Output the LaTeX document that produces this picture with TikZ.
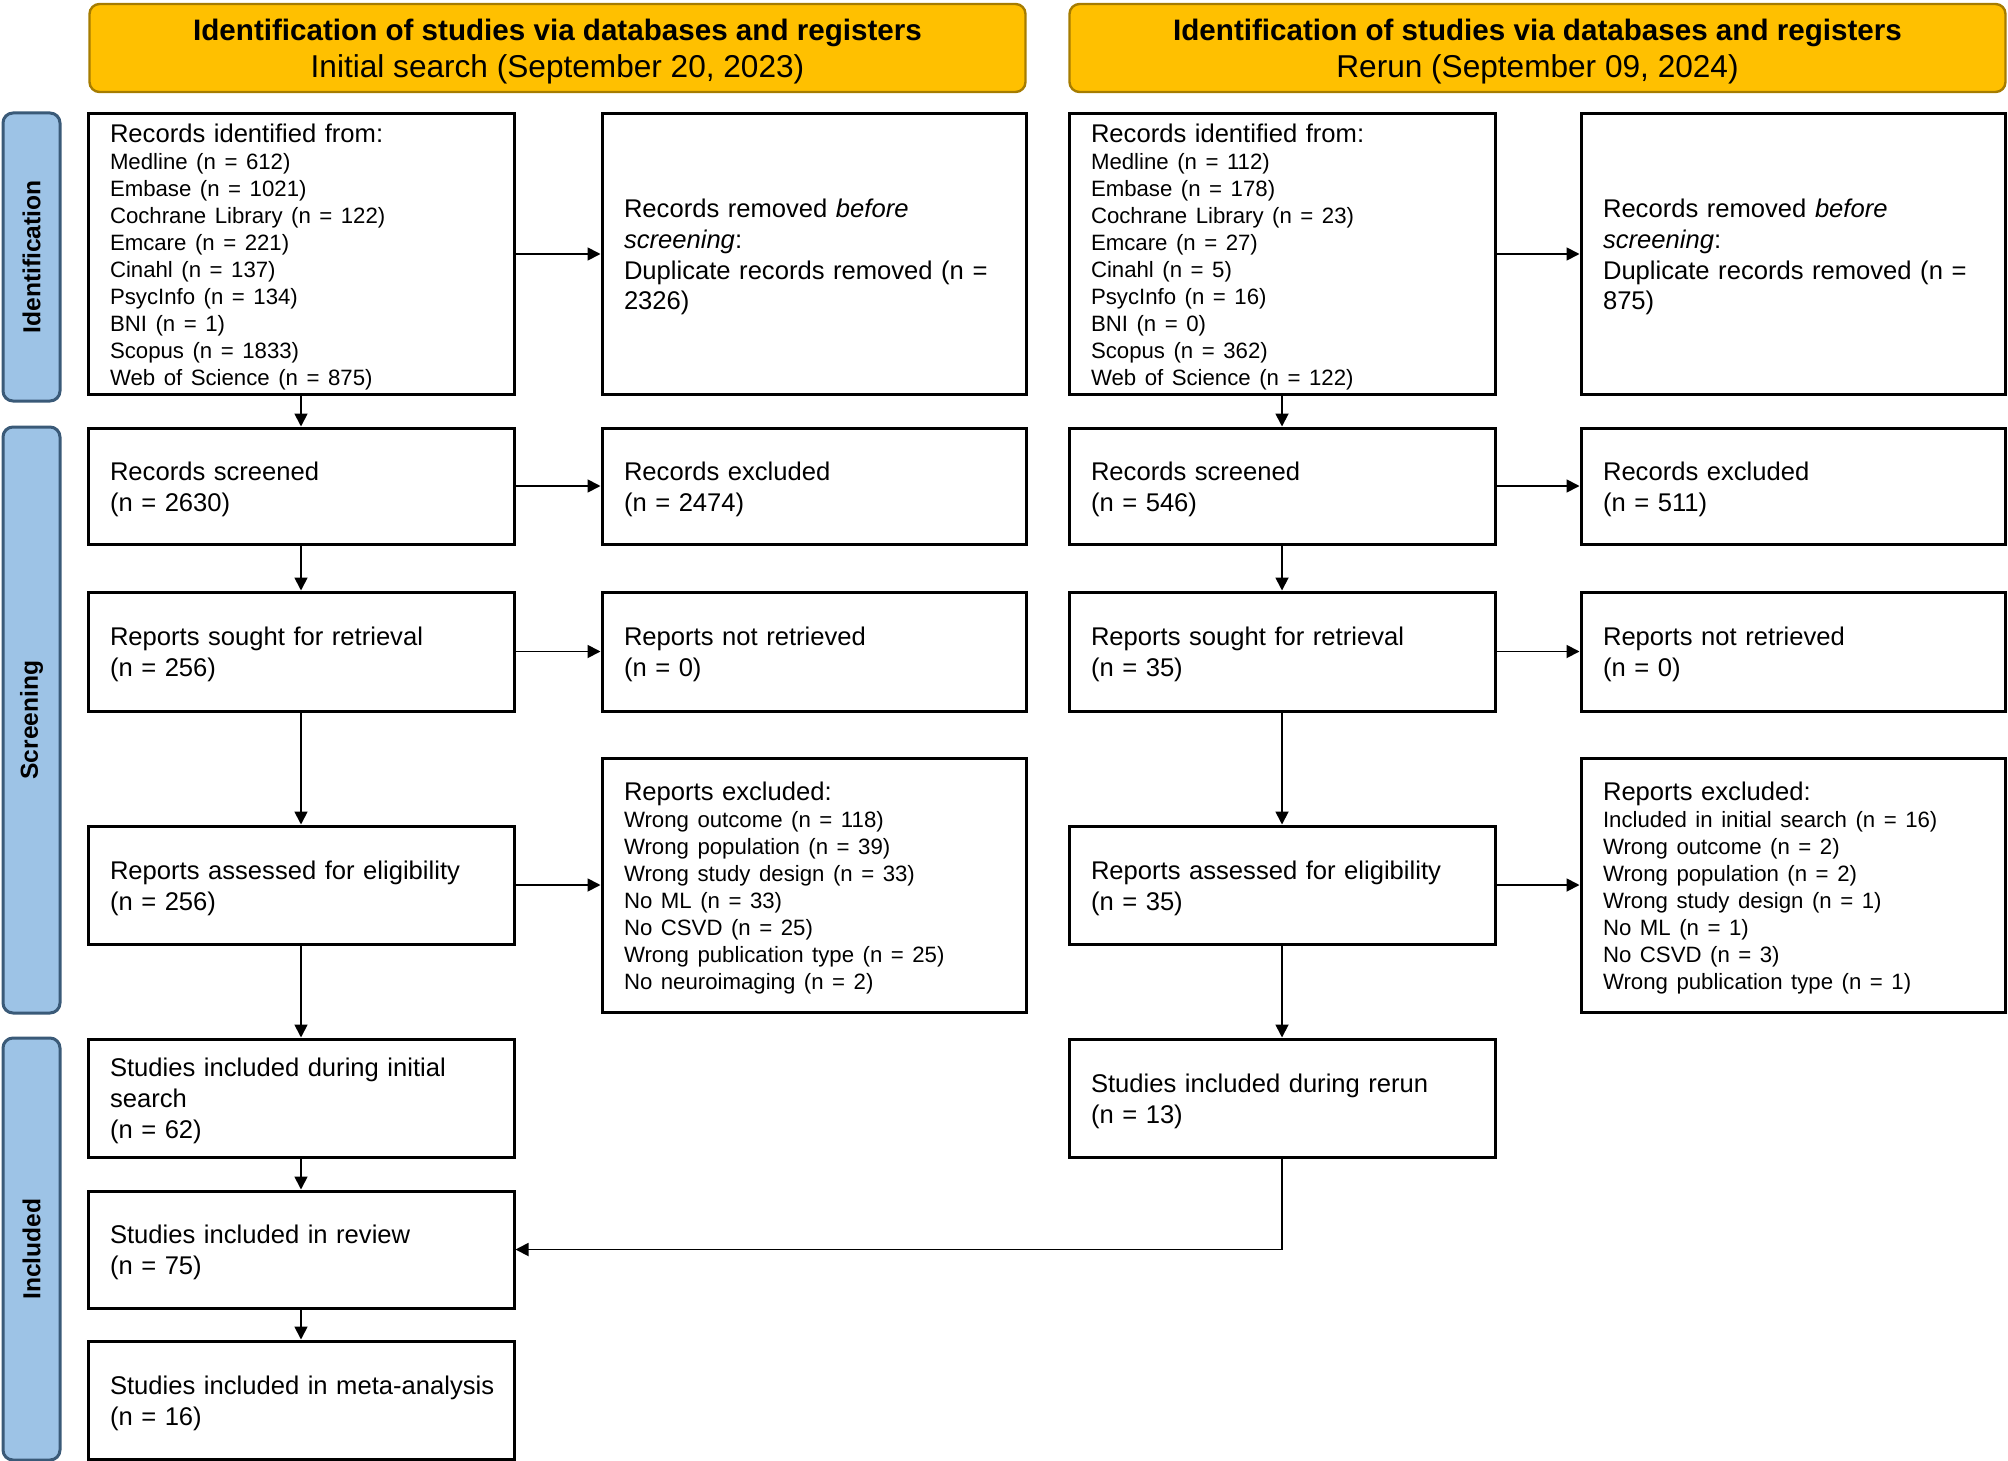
\documentclass[tikz,border=0pt]{standalone}
\usepackage{fontspec}
\setmainfont{Liberation Sans}
\usetikzlibrary{arrows.meta}
\definecolor{hdrfill}{HTML}{FFC000}
\definecolor{hdrline}{HTML}{A67C00}
\definecolor{sidefill}{HTML}{9DC3E6}
\definecolor{sideline}{HTML}{3A5A78}
\newcommand\mainfs{\fontsize{12.8pt}{15.4pt}\selectfont}
\newcommand\listfs{\fontsize{11.1pt}{13.45pt}\selectfont}
\newcommand\ts{\rule{0pt}{12.3pt}}
\begin{document}
\begin{tikzpicture}[x=0.5pt,y=-0.5pt,
  box/.style={draw, line width=1.5pt, rectangle, inner xsep=11pt, inner ysep=0pt,
    align=left, font=\mainfs},
  lbox/.style={box, text width=191pt, minimum width=213pt},
  rbox/.style={box, text width=190pt, minimum width=212pt},
  listbox/.style={font=\fontsize{12.8pt}{13.45pt}\selectfont},
  hdr/.style={draw=hdrline, fill=hdrfill, line width=1.2pt, rounded corners=5pt,
    minimum width=468pt, minimum height=44pt, align=center, inner sep=0pt,
    font=\fontsize{15.8pt}{18.6pt}\selectfont},
  side/.style={draw=sideline, fill=sidefill, line width=1.5pt, rounded corners=5pt,
    rotate=90, minimum height=28.5pt, inner sep=0pt,
    font=\fontsize{12.3pt}{14pt}\selectfont\bfseries},
  arr/.style={line width=0.9pt, -{Triangle[length=6.5pt,width=6.5pt]}}
]
\useasboundingbox (0,0) rectangle (2008,1461);

% headers
\node[hdr] (H1) at (557.5,48) {{\fontsize{14.8pt}{18.6pt}\selectfont\bfseries\rule{0pt}{14.5pt}Identification of studies via databases and registers}\\
  Initial search (September 20, 2023)};
\node[hdr] (H2) at (1537.5,48) {{\fontsize{14.8pt}{18.6pt}\selectfont\bfseries\rule{0pt}{14.5pt}Identification of studies via databases and registers}\\
  Rerun (September 09, 2024)};

% side bars
\node[side, minimum width=144pt] (S1) at (31.5,257) {Identification};
\node[side, minimum width=293pt] (S2) at (31.5,720) {Screening};
\node[side, minimum width=211pt] (S3) at (31.5,1249) {Included};

% left column
\node[lbox, listbox, minimum height=140pt] (A1) at (301,254) {\ts Records identified from:\\\listfs
Medline (n = 612)\\Embase (n = 1021)\\Cochrane Library (n = 122)\\Emcare (n = 221)\\Cinahl (n = 137)\\PsycInfo (n = 134)\\BNI (n = 1)\\Scopus (n = 1833)\\Web of Science (n = 875)};
\node[rbox, minimum height=140pt] (A2) at (814,254) {\ts Records removed \textit{before}\\\textit{screening}:\\Duplicate records removed (n =\\2326)};
\node[lbox, minimum height=58pt] (B1) at (301,486) {\ts Records screened\\(n = 2630)};
\node[rbox, minimum height=58pt] (B2) at (814,486) {\ts Records excluded\\(n = 2474)};
\node[lbox, minimum height=59.5pt] (C1) at (301,651.5) {\ts Reports sought for retrieval\\(n = 256)};
\node[rbox, minimum height=59.5pt] (C2) at (814,651.5) {\ts Reports not retrieved\\(n = 0)};
\node[lbox, minimum height=59pt] (D1) at (301,885) {\ts Reports assessed for eligibility\\(n = 256)};
\node[rbox, listbox, minimum height=127pt] (D2) at (814,885) {\ts Reports excluded:\\\listfs
Wrong outcome (n = 118)\\Wrong population (n = 39)\\Wrong study design (n = 33)\\No ML (n = 33)\\No CSVD (n = 25)\\Wrong publication type (n = 25)\\No neuroimaging (n = 2)};
\node[lbox, minimum height=59pt] (E1) at (301,1098) {\ts Studies included during initial\\search\\(n = 62)};
\node[lbox, minimum height=58.5pt] (F1) at (301,1249.5) {\ts Studies included in review\\(n = 75)};
\node[lbox, minimum height=59pt] (G1) at (301,1400) {\ts\mbox{Studies included in meta-analysis}\\(n = 16)};

% right column
\node[lbox, listbox, minimum height=140pt] (RA1) at (1282,254) {\ts Records identified from:\\\listfs
Medline (n = 112)\\Embase (n = 178)\\Cochrane Library (n = 23)\\Emcare (n = 27)\\Cinahl (n = 5)\\PsycInfo (n = 16)\\BNI (n = 0)\\Scopus (n = 362)\\Web of Science (n = 122)};
\node[rbox, minimum height=140pt] (RA2) at (1793,254) {\ts Records removed \textit{before}\\\textit{screening}:\\Duplicate records removed (n =\\875)};
\node[lbox, minimum height=58pt] (RB1) at (1282,486) {\ts Records screened\\(n = 546)};
\node[rbox, minimum height=58pt] (RB2) at (1793,486) {\ts Records excluded\\(n = 511)};
\node[lbox, minimum height=59.5pt] (RC1) at (1282,651.5) {\ts Reports sought for retrieval\\(n = 35)};
\node[rbox, minimum height=59.5pt] (RC2) at (1793,651.5) {\ts Reports not retrieved\\(n = 0)};
\node[lbox, minimum height=59pt] (RD1) at (1282,885) {\ts Reports assessed for eligibility\\(n = 35)};
\node[rbox, listbox, minimum height=127pt] (RD2) at (1793,885) {\ts Reports excluded:\\\listfs
Included in initial search (n = 16)\\Wrong outcome (n = 2)\\Wrong population (n = 2)\\Wrong study design (n = 1)\\No ML (n = 1)\\No CSVD (n = 3)\\Wrong publication type (n = 1)};
\node[lbox, minimum height=59pt] (RE1) at (1282,1098) {\ts Studies included during rerun\\(n = 13)};

% arrows left
\draw[arr] (A1) -- (A2);
\draw[arr] (A1) -- (B1);
\draw[arr] (B1) -- (B2);
\draw[arr] (B1) -- (C1);
\draw[arr] (C1) -- (C2);
\draw[arr] (C1) -- (D1);
\draw[arr] (D1) -- (D2);
\draw[arr] (D1) -- (E1);
\draw[arr] (E1) -- (F1);
\draw[arr] (F1) -- (G1);
% arrows right
\draw[arr] (RA1) -- (RA2);
\draw[arr] (RA1) -- (RB1);
\draw[arr] (RB1) -- (RB2);
\draw[arr] (RB1) -- (RC1);
\draw[arr] (RC1) -- (RC2);
\draw[arr] (RC1) -- (RD1);
\draw[arr] (RD1) -- (RD2);
\draw[arr] (RD1) -- (RE1);
\draw[arr] (RE1.south) |- (F1.east);
\end{tikzpicture}
\end{document}
